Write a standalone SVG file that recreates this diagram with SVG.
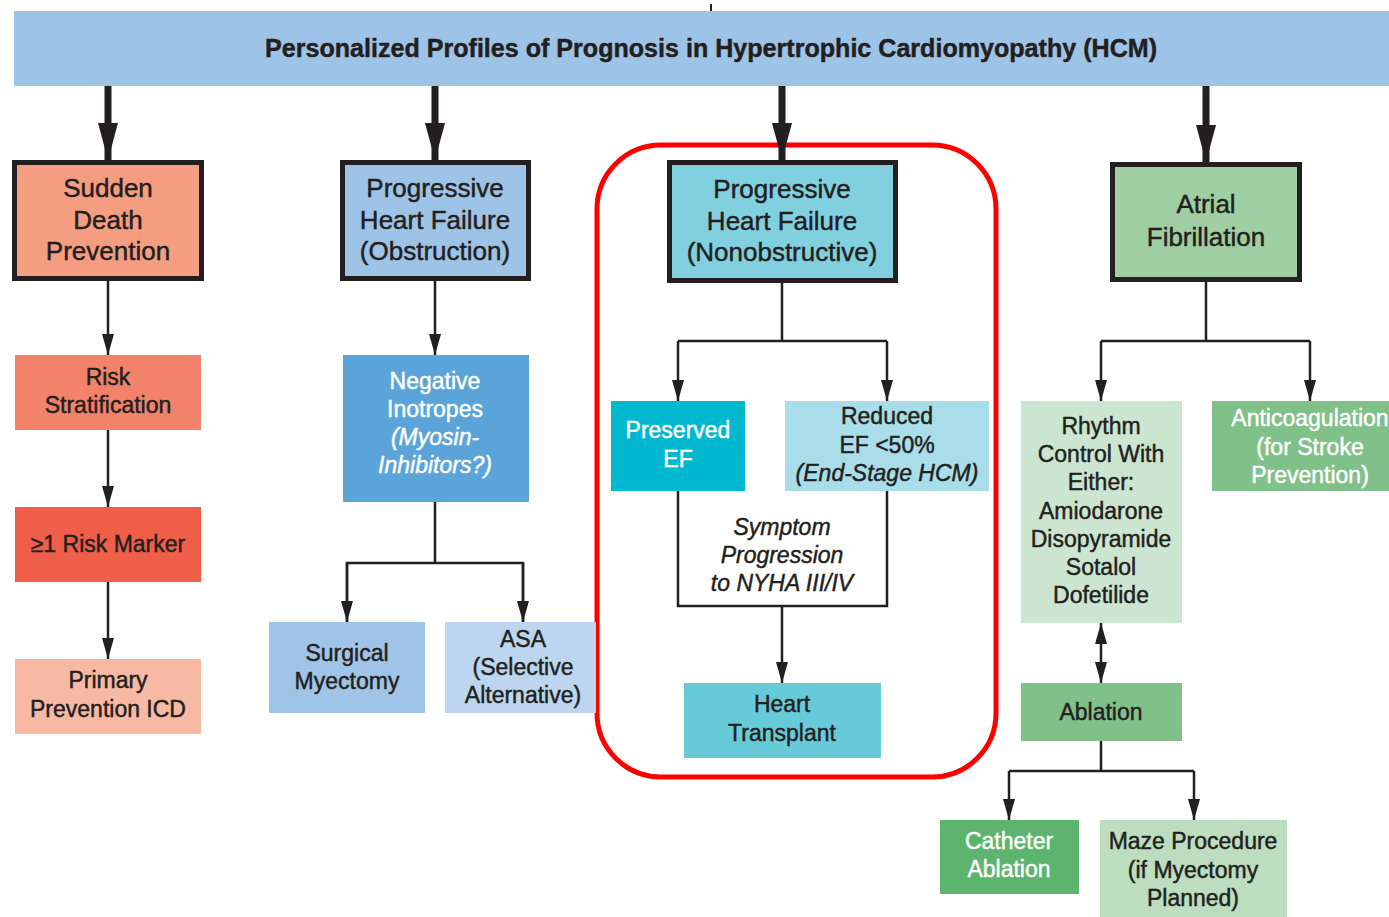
<svg xmlns="http://www.w3.org/2000/svg" width="1389" height="917" viewBox="0 0 1389 917">
  <defs>
    <style>
      .t { font-family: "Liberation Sans", Arial, sans-serif; fill: #231f20; stroke: #231f20; stroke-width: 0.45; text-anchor: middle; }
      .lg { font-size: 26px; }
      .sm { font-size: 23px; }
      .w { fill: #ffffff; stroke: #ffffff; }
      .it { font-style: italic; }
      .frame { stroke: #231f20; stroke-width: 5; }
      .link { fill: none; stroke: #231f20; stroke-width: 2.5; stroke-linejoin: miter; }
      .trunk { fill: none; stroke: #231f20; stroke-width: 7; }
    </style>
    <marker id="headThick" viewBox="0 0 37 20" refX="37" refY="10" markerWidth="37" markerHeight="20" markerUnits="userSpaceOnUse" orient="auto">
      <path d="M0,0 L37,10 L0,20 z" fill="#231f20"/>
    </marker>
    <marker id="head" viewBox="0 0 21 12" refX="21" refY="6" markerWidth="21" markerHeight="12" markerUnits="userSpaceOnUse" orient="auto-start-reverse">
      <path d="M0,0 L21,6 L0,12 z" fill="#231f20"/>
    </marker>
  </defs>

  <rect width="1389" height="917" fill="#ffffff"/>

  <!-- header banner -->
  <g id="header">
    <line x1="711" y1="4" x2="711" y2="11" stroke="#231f20" stroke-width="2"/>
    <rect x="14" y="11" width="1375" height="75" fill="#9dc3e6"/>
    <text class="t" x="711" y="57" font-size="25" font-weight="bold" stroke-width="0.2" textLength="892" lengthAdjust="spacingAndGlyphs">Personalized Profiles of Prognosis in Hypertrophic Cardiomyopathy (HCM)</text>
  </g>

  <!-- highlight around the nonobstructive pathway -->
  <rect id="highlight" x="597" y="145" width="399" height="632" rx="64" ry="64" fill="none" stroke="#ff0000" stroke-width="5"/>

  <!-- connectors -->
  <g id="connectors">
    <line class="trunk" x1="108" y1="86" x2="108" y2="160" marker-end="url(#headThick)"/>
    <line class="trunk" x1="435" y1="86" x2="435" y2="160" marker-end="url(#headThick)"/>
    <line class="trunk" x1="782" y1="86" x2="782" y2="160" marker-end="url(#headThick)"/>
    <line class="trunk" x1="1206" y1="86" x2="1206" y2="162" marker-end="url(#headThick)"/>

    <!-- sudden death column -->
    <line class="link" x1="108" y1="281" x2="108" y2="355" marker-end="url(#head)"/>
    <line class="link" x1="108" y1="430" x2="108" y2="507" marker-end="url(#head)"/>
    <line class="link" x1="108" y1="582" x2="108" y2="659" marker-end="url(#head)"/>

    <!-- obstruction column -->
    <line class="link" x1="435" y1="281" x2="435" y2="355" marker-end="url(#head)"/>
    <line class="link" x1="435" y1="502" x2="435" y2="563"/>
    <polyline class="link" points="347,622 347,563 523,563 523,622"/>
    <line class="link" x1="347" y1="563" x2="347" y2="622" marker-end="url(#head)"/>
    <line class="link" x1="523" y1="563" x2="523" y2="622" marker-end="url(#head)"/>

    <!-- nonobstructive column -->
    <line class="link" x1="782" y1="283" x2="782" y2="341"/>
    <polyline class="link" points="678,341 887,341"/>
    <line class="link" x1="678" y1="341" x2="678" y2="401" marker-end="url(#head)"/>
    <line class="link" x1="887" y1="341" x2="887" y2="401" marker-end="url(#head)"/>
    <polyline class="link" points="678,491 678,606 887,606 887,491"/>
    <line class="link" x1="782" y1="606" x2="782" y2="683" marker-end="url(#head)"/>

    <!-- atrial fibrillation column -->
    <line class="link" x1="1206" y1="282" x2="1206" y2="341"/>
    <polyline class="link" points="1101,341 1310,341"/>
    <line class="link" x1="1101" y1="341" x2="1101" y2="401" marker-end="url(#head)"/>
    <line class="link" x1="1310" y1="341" x2="1310" y2="401" marker-end="url(#head)"/>
    <line class="link" x1="1101" y1="623" x2="1101" y2="683" marker-start="url(#head)" marker-end="url(#head)"/>
    <line class="link" x1="1101" y1="741" x2="1101" y2="771"/>
    <polyline class="link" points="1009,771 1194,771"/>
    <line class="link" x1="1009" y1="771" x2="1009" y2="820" marker-end="url(#head)"/>
    <line class="link" x1="1194" y1="771" x2="1194" y2="820" marker-end="url(#head)"/>
  </g>

  <!-- top-level categories -->
  <g id="sudden-death">
    <rect class="frame" x="14.5" y="162.5" width="187" height="116" fill="#f59d80"/>
    <text class="t lg" x="108" y="197">Sudden<tspan x="108" dy="31.5">Death</tspan><tspan x="108" dy="31.5">Prevention</tspan></text>
  </g>
  <g id="hf-obstruction">
    <rect class="frame" x="342.5" y="162.5" width="186" height="116" fill="#9dc3e6"/>
    <text class="t lg" x="435" y="197">Progressive<tspan x="435" dy="31.5">Heart Failure</tspan><tspan x="435" dy="31.5">(Obstruction)</tspan></text>
  </g>
  <g id="hf-nonobstructive">
    <rect class="frame" x="669.5" y="162.5" width="226" height="118" fill="#81d0df"/>
    <text class="t lg" x="782" y="198">Progressive<tspan x="782" dy="31.5">Heart Failure</tspan><tspan x="782" dy="31.5">(Nonobstructive)</tspan></text>
  </g>
  <g id="atrial-fibrillation">
    <rect class="frame" x="1112.5" y="164.5" width="187" height="115" fill="#9fcea3"/>
    <text class="t lg" x="1206" y="213">Atrial<tspan x="1206" dy="33">Fibrillation</tspan></text>
  </g>

  <!-- sudden death pathway -->
  <g id="risk-stratification">
    <rect x="15" y="355" width="186" height="75" fill="#f2826a"/>
    <text class="t sm" x="108" y="385">Risk<tspan x="108" dy="28">Stratification</tspan></text>
  </g>
  <g id="risk-marker">
    <rect x="15" y="507" width="186" height="75" fill="#ef5e48"/>
    <text class="t sm" x="108" y="552">≥1 Risk Marker</text>
  </g>
  <g id="primary-icd">
    <rect x="15" y="659" width="186" height="75" fill="#f8b9a4"/>
    <text class="t sm" x="108" y="688">Primary<tspan x="108" dy="29">Prevention ICD</tspan></text>
  </g>

  <!-- obstruction pathway -->
  <g id="negative-inotropes">
    <rect x="343" y="355" width="186" height="147" fill="#5ba4d9"/>
    <text class="t sm w" x="435" y="389">Negative<tspan x="435" dy="28">Inotropes</tspan><tspan x="435" dy="28" class="it">(Myosin-</tspan><tspan x="435" dy="28" class="it">Inhibitors?)</tspan></text>
  </g>
  <g id="surgical-myectomy">
    <rect x="269" y="622" width="156" height="91" fill="#a0c4e8"/>
    <text class="t sm" x="347" y="661">Surgical<tspan x="347" dy="28">Myectomy</tspan></text>
  </g>
  <g id="asa">
    <rect x="445" y="622" width="151" height="91" fill="#bcd6ef"/>
    <text class="t sm" x="523" y="647">ASA<tspan x="523" dy="28">(Selective</tspan><tspan x="523" dy="28">Alternative)</tspan></text>
  </g>

  <!-- nonobstructive pathway -->
  <g id="preserved-ef">
    <rect x="611" y="401" width="134" height="90" fill="#00b9d0"/>
    <text class="t sm w" x="678" y="438">Preserved<tspan x="678" dy="29">EF</tspan></text>
  </g>
  <g id="reduced-ef">
    <rect x="785" y="401" width="204" height="90" fill="#a8dde9"/>
    <text class="t sm" x="887" y="424">Reduced<tspan x="887" dy="29">EF &lt;50%</tspan><tspan x="887" dy="28" class="it">(End-Stage HCM)</tspan></text>
  </g>
  <g id="symptom-progression">
    <text class="t sm it" x="782" y="535">Symptom<tspan x="782" dy="28">Progression</tspan><tspan x="782" dy="28">to NYHA III/IV</tspan></text>
  </g>
  <g id="heart-transplant">
    <rect x="684" y="683" width="197" height="75" fill="#66cad8"/>
    <text class="t sm" x="782" y="712">Heart<tspan x="782" dy="29">Transplant</tspan></text>
  </g>

  <!-- atrial fibrillation pathway -->
  <g id="rhythm-control">
    <rect x="1021" y="401" width="161" height="222" fill="#cce5d0"/>
    <text class="t sm" x="1101" y="434">Rhythm<tspan x="1101" dy="28.2">Control With</tspan><tspan x="1101" dy="28.2">Either:</tspan><tspan x="1101" dy="28.2">Amiodarone</tspan><tspan x="1101" dy="28.2">Disopyramide</tspan><tspan x="1101" dy="28.2">Sotalol</tspan><tspan x="1101" dy="28.2">Dofetilide</tspan></text>
  </g>
  <g id="anticoagulation">
    <rect x="1212" y="401" width="177" height="90" fill="#80c18a"/>
    <text class="t sm w" x="1310" y="426">Anticoagulation<tspan x="1310" dy="28.5">(for Stroke</tspan><tspan x="1310" dy="28.5">Prevention)</tspan></text>
  </g>
  <g id="ablation">
    <rect x="1021" y="683" width="161" height="58" fill="#80c18a"/>
    <text class="t sm" x="1101" y="720">Ablation</text>
  </g>
  <g id="catheter-ablation">
    <rect x="940" y="820" width="139" height="74" fill="#5db46e"/>
    <text class="t sm w" x="1009" y="849">Catheter<tspan x="1009" dy="28">Ablation</tspan></text>
  </g>
  <g id="maze-procedure">
    <rect x="1100" y="820" width="187" height="97" fill="#bcddbf"/>
    <text class="t sm" x="1193" y="849">Maze Procedure<tspan x="1193" dy="28.5">(if Myectomy</tspan><tspan x="1193" dy="28.5">Planned)</tspan></text>
  </g>
</svg>
